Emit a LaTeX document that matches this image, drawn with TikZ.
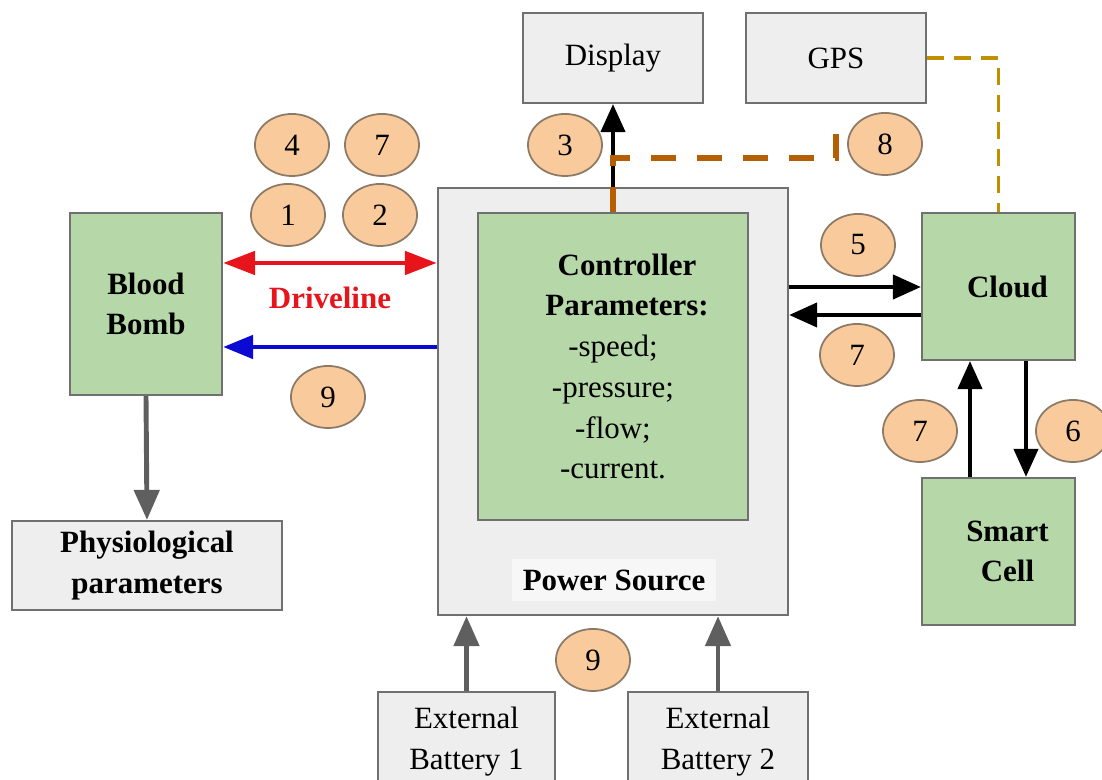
\documentclass[tikz,border=0pt]{standalone}
\usepackage{fontspec}
\setmainfont{LiberationSerif}[Extension=.ttf, UprightFont=*-Regular, BoldFont=*-Bold, ItalicFont=*-Italic, BoldItalicFont=*-BoldItalic]
\usetikzlibrary{arrows.meta,shapes.geometric}
\definecolor{boxgreen}{HTML}{B6D7A8}
\definecolor{boxgray}{HTML}{EEEEEE}
\definecolor{labelgray}{HTML}{F7F7F7}
\definecolor{peach}{HTML}{F9CB9C}
\definecolor{peachedge}{HTML}{8C7A66}
\definecolor{edgegray}{HTML}{707070}
\definecolor{arrowgray}{HTML}{5F5F5F}
\definecolor{drivered}{HTML}{E8141C}
\definecolor{driveblue}{HTML}{0A0AD2}
\definecolor{dashbrown}{HTML}{B45F06}
\definecolor{dashgold}{HTML}{BF9000}
\tikzset{
  greenbox/.style={draw=edgegray, fill=boxgreen, line width=0.6pt, align=center, inner sep=1pt},
  graybox/.style={draw=edgegray, fill=boxgray, line width=0.6pt, align=center, inner sep=1pt},
  num/.style={ellipse, draw=peachedge, fill=peach, line width=0.5pt, minimum width=0.74cm, minimum height=0.62cm, inner sep=0pt},
  blackarrow/.style={line width=1.2pt, -{Triangle[length=0.28cm,width=0.24cm]}},
  grayarrow/.style={arrowgray, line width=1.4pt, -{Triangle[length=0.3cm,width=0.25cm]}},
  redarrow/.style={drivered, line width=1.4pt, {Triangle[length=0.32cm,width=0.23cm]}-{Triangle[length=0.32cm,width=0.23cm]}},
  bluearrow/.style={driveblue, line width=1.4pt, -{Triangle[length=0.3cm,width=0.23cm]}},
  browndash/.style={dashbrown, line width=1.7pt, dash pattern=on 0.25cm off 0.21cm},
  golddash/.style={dashgold, line width=1.1pt, dash pattern=on 0.17cm off 0.1cm}
}
\begin{document}
\fontsize{8.8}{11.6}\selectfont
\begin{tikzpicture}[x=0.01cm, y=-0.01cm]
	\useasboundingbox (0,0) rectangle (1102,780);
	% boxes
	\node[graybox, minimum width=1.80cm, minimum height=0.90cm] (display) at (613,58) {Display};
	\node[graybox, minimum width=1.80cm, minimum height=0.90cm] (gps) at (836,58) {GPS};
	\node[graybox, minimum width=3.50cm, minimum height=4.27cm] (power) at (613,401.5) {};
	\node[greenbox, minimum width=2.70cm, minimum height=3.07cm] (ctrl) at (613,366.5)
		{\hspace*{0.28cm}\textbf{Controller}\\ \hspace*{0.28cm}\textbf{Parameters:}\\ -speed;\\ -pressure;\\ -flow;\\ -current.};
	\node[fill=labelgray, minimum width=2.03cm, minimum height=0.37cm, font=\bfseries] (pslabel) at (614,580) {Power Source};
	\node[greenbox, minimum width=1.52cm, minimum height=1.82cm, font=\bfseries] (bomb) at (146,304) {Blood\\ Bomb};
	\node[graybox, minimum width=2.70cm, minimum height=0.89cm, font=\bfseries] (phys) at (147,565.5) {Physiological\\ parameters};
	\node[greenbox, minimum width=1.53cm, minimum height=1.47cm, font=\bfseries] (cloud) at (998.5,286.5) {\hspace*{0.18cm}Cloud};
	\node[greenbox, minimum width=1.53cm, minimum height=1.47cm, font=\bfseries] (smart) at (998.5,551.5) {\hspace*{0.18cm}Smart\\ \hspace*{0.18cm}Cell};
	\node[graybox, minimum width=1.77cm, minimum height=1.00cm] (bat1) at (466.5,742) {External\\ Battery 1};
	\node[graybox, minimum width=1.80cm, minimum height=1.00cm] (bat2) at (718,742) {External\\ Battery 2};
	% levels for the connectors
	\coordinate (redlevel) at (0,263);
	\coordinate (bluelevel) at (0,347);
	\coordinate (outlevel) at (0,287);
	\coordinate (inlevel) at (0,315);
	\coordinate (uplevel) at (970,0);
	\coordinate (downlevel) at (1026,0);
	\coordinate (bendlevel) at (0,158);
	\coordinate (gpstap) at (836,115);
	% connectors
	\draw[redarrow] (bomb.east |- redlevel) -- (power.west |- redlevel);
	\node[text=drivered, font=\bfseries] (drive) at (330,298) {Driveline};
	\draw[bluearrow] (power.west |- bluelevel) -- (bomb.east |- bluelevel);
	\draw[grayarrow] (bomb.south) -- (phys.north);
	\draw[blackarrow] (ctrl.north) -- (display.south);
	\draw[browndash] (ctrl.north) -- (ctrl.north |- bendlevel) -| (gpstap);
	\draw[golddash] (gps.east) -| (cloud.north);
	\draw[blackarrow] (power.east |- outlevel) -- (cloud.west |- outlevel);
	\draw[blackarrow] (cloud.west |- inlevel) -- (power.east |- inlevel);
	\draw[blackarrow] (smart.north -| uplevel) -- (cloud.south -| uplevel);
	\draw[blackarrow] (cloud.south -| downlevel) -- (smart.north -| downlevel);
	\draw[grayarrow] (bat1.north) -- (bat1.north |- power.south);
	\draw[grayarrow] (bat2.north) -- (bat2.north |- power.south);
	% step numbers
	\node[num] (n4) at (292,145) {4};
	\node[num] (n7a) at (382,145) {7};
	\node[num] (n1) at (288,215) {1};
	\node[num] (n2) at (380,215) {2};
	\node[num] (n3) at (565,145) {3};
	\node[num] (n8) at (885,144) {8};
	\node[num] (n5) at (858,245) {5};
	\node[num] (n7b) at (857,355) {7};
	\node[num] (n9a) at (328,397) {9};
	\node[num] (n7c) at (920,431) {7};
	\node[num] (n6) at (1073,431) {6};
	\node[num] (n9b) at (593,660) {9};
\end{tikzpicture}
\end{document}
